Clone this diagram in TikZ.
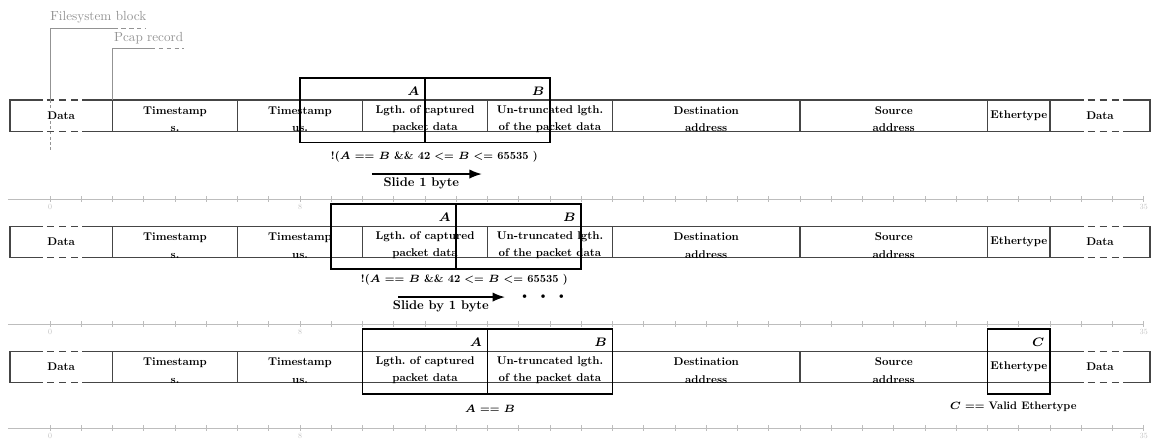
\documentclass[tikz,border=0pt]{standalone}
\usepackage{fontspec}
\setmainfont{lmroman10-regular.otf}[BoldFont=lmroman10-bold.otf, ItalicFont=lmroman10-italic.otf, BoldItalicFont=lmroman10-bolditalic.otf]
\usetikzlibrary{arrows.meta,positioning}
\definecolor{rulergray}{HTML}{BDBDBD}
\definecolor{blockgray}{HTML}{939393}
\definecolor{fieldline}{HTML}{454545}
\newcommand{\toppad}{\rule{0pt}{8.5pt}}

\begin{document}
\begin{tikzpicture}[
  x=0.625cm, y=-0.02cm,
  >=Latex,
  every node/.style={font=\fontsize{6.4}{10}\selectfont\bfseries},
  fieldbox/.style={draw=fieldline, line width=0.6pt, minimum height=0.63cm, inner xsep=0pt, inner ysep=-2pt, outer sep=0pt, anchor=north west, align=center},
  openbox/.style={minimum height=0.63cm, inner sep=0pt, outer sep=0pt, anchor=north west, align=center},
  rowedge/.style={draw=fieldline, line width=0.6pt},
  rowgap/.style={rowedge, dash pattern=on 4pt off 2.9pt},
  window/.style={draw, line width=1.1pt, minimum height=1.29cm, inner sep=0pt, outer sep=0pt, anchor=north west},
  winlab/.style={font=\fontsize{7}{8}\selectfont\bfseries\boldmath, anchor=north east, inner xsep=3pt, inner ysep=5pt},
  cond/.style={font=\fontsize{6.2}{8}\selectfont\bfseries\boldmath},
  slide/.style={->, line width=0.9pt},
  slidelab/.style={font=\fontsize{7.2}{8}\selectfont\bfseries, inner sep=1.5pt},
  ruler/.style={draw=rulergray, line width=0.4pt},
  rulerlab/.style={font=\fontsize{4.5}{5}\selectfont, text=rulergray, anchor=north, inner sep=1pt},
  blockline/.style={draw=blockgray, line width=0.5pt},
  blocklab/.style={font=\fontsize{7.5}{8}\selectfont, text=blockgray, anchor=base west, inner sep=0pt}
]
\useasboundingbox (-1.6,0) rectangle (35.36,440);

% byte rulers
\foreach \k/\yr in {1/199,2/324,3/428} {
  \draw[ruler] (-1.35,\yr) -- (35,\yr);
  \foreach \t in {0,...,35} \draw[ruler] (\t,\yr-3) -- (\t,\yr+3);
  \node[rulerlab] (zero\k) at (0,\yr+3) {0};
  \node[rulerlab] (eight\k) at (8,\yr+3) {8};
  \node[rulerlab] (last\k) at (35,\yr+3) {35};
}

% the three rows of the capture
\foreach \k/\yt in {1/100,2/226,3/351} {
  \node[openbox, minimum width=2.05cm] (dl\k) at (-1.28,\yt) {Data};
  \node[fieldbox, minimum width=2.5cm] (tss\k) at (2,\yt) {\toppad Timestamp\\s.};
  \node[fieldbox, minimum width=2.5cm] (tsu\k) at (6,\yt) {\toppad Timestamp\\us.};
  \node[fieldbox, minimum width=2.5cm] (len\k) at (10,\yt) {\toppad Lgth.\ of captured\\packet data};
  \node[fieldbox, minimum width=2.5cm] (orig\k) at (14,\yt) {\toppad Un-truncated lgth.\\of the packet data};
  \node[fieldbox, minimum width=3.75cm] (dst\k) at (18,\yt) {\toppad Destination\\address};
  \node[fieldbox, minimum width=3.75cm] (src\k) at (24,\yt) {\toppad Source\\address};
  \node[fieldbox, minimum width=1.25cm] (eth\k) at (30,\yt) {Ethertype};
  \node[openbox, minimum width=2cm] (dr\k) at (32,\yt) {Data};
  \draw[rowedge] (dl\k.north west) ++(1.06,0) -| (dl\k.south west) -- ++(1.06,0);
  \draw[rowedge] (dl\k.north east) -- ++(-0.98,0) (dl\k.south east) -- ++(-0.98,0);
  \draw[rowgap] (dl\k.north west) ++(1.18,0) -- ++(1,0) (dl\k.south west) ++(1.18,0) -- ++(1,0);
  \draw[rowedge] (dr\k.north west) -- ++(1.08,0) (dr\k.south west) -- ++(1.08,0);
  \draw[rowedge] (dr\k.north east) ++(-0.88,0) -| (dr\k.south east) -- ++(-0.88,0);
  \draw[rowgap] (dr\k.north west) ++(1.2,0) -- ++(1,0) (dr\k.south west) ++(1.2,0) -- ++(1,0);
}

% filesystem block and pcap record marks
\node[blocklab] (fsl) at (0,20) {Filesystem block};
\coordinate (fsbot) at (0,152);
\coordinate (fsrow) at (0,100);
\coordinate (fstop) at (0,28);
\coordinate (fsend) at (2.18,28);
\coordinate (fsfar) at (3.04,28);
\draw[blockline] (fsrow) -- (fstop) -- (fsend);
\draw[blockline, dash pattern=on 1.5pt off 1.5pt] (fsrow) -- (fsbot);
\draw[blockline, dash pattern=on 2.5pt off 2pt] (fsend) ++(0.1,0) -- (fsfar);
\node[blocklab] (pcl) at (2.04,41) {Pcap record};
\coordinate (pctop) at (2,48);
\coordinate (pcend) at (3.36,48);
\coordinate (pcfar) at (4.3,48);
\draw[blockline] (tss1.north west) -- (pctop) -- (pcend);
\draw[blockline, dash pattern=on 2.5pt off 2pt] (pcend) ++(0.12,0) -- (pcfar);

% row 1: window two bytes early
\node[window, minimum width=2.5cm] (wa1) at (8,78) {};
\node[window, minimum width=2.5cm] (wb1) at (12,78) {};
\node[winlab] (la1) at (wa1.north east) {$A$};
\node[winlab] (lb1) at (wb1.north east) {$B$};
\node[cond] (cond1) at (12.3,157) {!($A$ == $B$ \&\& 42 <= $B$ <= 65535 )};
\coordinate (s1a) at (10.3,174);
\coordinate (s1b) at (13.82,174);
\draw[slide] (s1a) -- node[slidelab, below, pos=0.45] (sl1) {Slide 1 byte} (s1b);

% row 2: window one byte early
\node[window, minimum width=2.5cm] (wa2) at (9,204) {};
\node[window, minimum width=2.5cm] (wb2) at (13,204) {};
\node[winlab] (la2) at (wa2.north east) {$A$};
\node[winlab] (lb2) at (wb2.north east) {$B$};
\node[cond] (cond2) at (13.26,280) {!($A$ == $B$ \&\& 42 <= $B$ <= 65535 )};
\coordinate (s2a) at (11.14,297);
\coordinate (s2b) at (14.56,297);
\draw[slide] (s2a) -- node[slidelab, below, pos=0.4] (sl2) {Slide by 1 byte} (s2b);
\node[font=\fontsize{7}{8}\selectfont] (more2) at (15.78,297) {\textbullet\hspace{5pt}\textbullet\hspace{5pt}\textbullet};

% row 3: window on the record header
\node[window, minimum width=2.5cm] (wa3) at (10,329) {};
\node[window, minimum width=2.5cm] (wb3) at (14,329) {};
\node[window, minimum width=1.25cm] (wc3) at (30,329) {};
\node[winlab] (la3) at (wa3.north east) {$A$};
\node[winlab] (lb3) at (wb3.north east) {$B$};
\node[winlab] (lc3) at (wc3.north east) {$C$};
\node[cond] (cond3) at (14.08,409) {$A$ == $B$};
\node[cond] (cond4) at (30.82,407) {$C$ == Valid Ethertype};
\end{tikzpicture}
\end{document}
